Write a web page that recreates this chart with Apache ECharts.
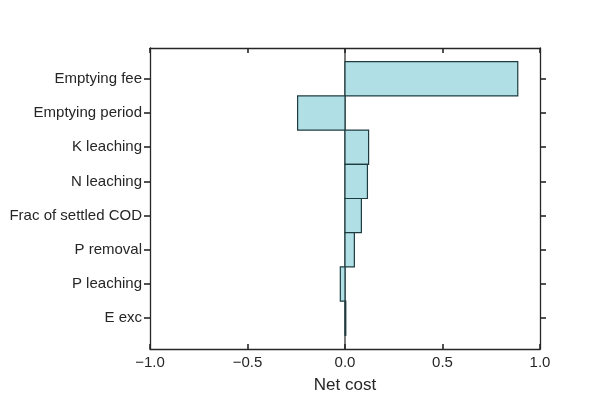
<!DOCTYPE html>
<html>
<head>
<meta charset="utf-8">
<script src="https://cdn.jsdelivr.net/npm/echarts@6/dist/echarts.min.js"></script>
<style>
	html, body {margin: 0; padding: 0; background: #fff;}
	#main {width: 600px; height: 400px;}
</style>
</head>
<body>
<div id="main"></div>
<script>
// parameters, top to bottom as in the plot
var categories = ['Emptying fee', 'Emptying period', 'K leaching', 'N leaching',
	'Frac of settled COD', 'P removal', 'P leaching', 'E exc'];
var netCost = [0.886, -0.243, 0.121, 0.115, 0.084, 0.048, -0.024, 0.002];
var xTicks = [-1, -0.5, 0, 0.5, 1];

window.onload = function () {
	var n = categories.length
	// y position: bottom category is 0
	var barData = netCost.map(function (v, i) { return [v, n - 1 - i] })
	var yPos = categories.map(function (c, i) { return n - 1 - i })
	var yMin = -0.9, yMax = n - 1 + 0.9
	var ink = '#262626'

	function nameOf(v) {
		var i = n - 1 - Math.round(v)
		return categories[i] || ''
	}
	function fmtX(v) {
		return v.toFixed(1).replace('-', '\u2212')
	}

	function renderBar(params, api) {
		var y = api.value(1)
		var a = api.coord([0, y])
		var b = api.coord([api.value(0), y])
		var h = api.size([0, 1])[1]
		return {
			type: 'rect',
			shape: {
				x: Math.min(a[0], b[0]),
				y: a[1] - h / 2,
				width: Math.max(Math.abs(b[0] - a[0]), 0.8),
				height: h
			},
			style: {fill: '#b0e0e6', stroke: '#1e3c40', lineWidth: 1.2}
		}
	}

	var xCommon = {
		type: 'value',
		min: xTicks[0],
		max: xTicks[xTicks.length - 1],
		interval: 0.5,
		splitLine: {show: false},
		axisLine: {show: true, onZero: false, lineStyle: {color: ink, width: 1.3}},
		axisTick: {show: true, inside: true, length: 5, lineStyle: {color: ink, width: 1.6}}
	}
	var yCommon = {
		type: 'value',
		min: yMin,
		max: yMax,
		splitLine: {show: false},
		axisLine: {show: true, onZero: false, lineStyle: {color: ink, width: 1.3}},
		axisTick: {show: true, inside: false, length: 6, customValues: yPos, lineStyle: {color: ink, width: 1.6}}
	}

	var options = {
		animation: false,
		grid: {left: 150, right: 60, top: 48, bottom: 51, containLabel: false},
		xAxis: [
			Object.assign({}, xCommon, {
				position: 'bottom',
				name: 'Net cost',
				nameLocation: 'middle',
				nameGap: 28,
				nameTextStyle: {color: ink, fontSize: 17, fontFamily: 'Liberation Sans'},
				axisLabel: {color: ink, fontSize: 15, fontFamily: 'Liberation Sans', margin: 6, formatter: fmtX}
			}),
			Object.assign({}, xCommon, {
				position: 'top',
				axisLabel: {show: false}
			})
		],
		yAxis: [
			Object.assign({}, yCommon, {
				position: 'left',
				axisLabel: {color: ink, fontSize: 15, fontFamily: 'Liberation Sans', margin: 8,
					customValues: yPos, formatter: nameOf}
			}),
			Object.assign({}, yCommon, {
				position: 'right',
				axisLabel: {show: false}
			})
		],
		series: [
			{
				type: 'line',
				data: [[0, yMin], [0, yMax]],
				symbol: 'none',
				lineStyle: {color: ink, width: 1.2},
				z: 1
			},
			{
				type: 'custom',
				renderItem: renderBar,
				encode: {x: 0, y: 1},
				data: barData,
				z: 2
			}
		]
	}
	var myChart = echarts.init(document.getElementById('main'))
	myChart.setOption(options)
}
</script>
</body>
</html>
